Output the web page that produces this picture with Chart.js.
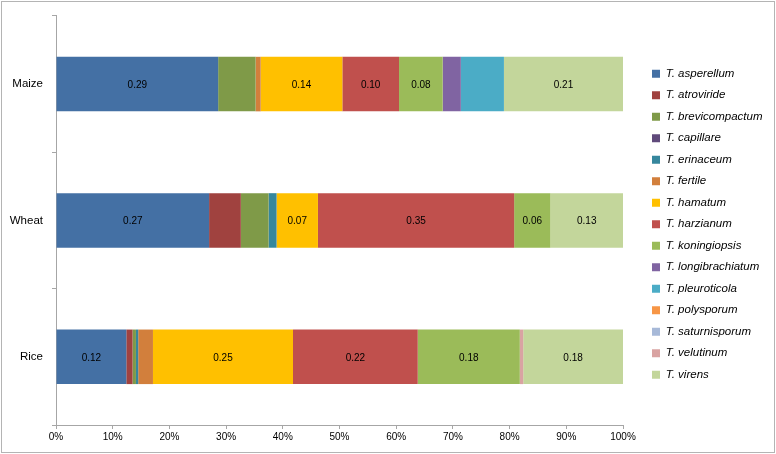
<!DOCTYPE html>
<html>
<head>
<meta charset="utf-8">
<script src="https://cdn.jsdelivr.net/npm/chart.js@4/dist/chart.umd.min.js"></script>
<style>
  html, body { margin: 0; padding: 0; background: #fff; }
  #wrap { width: 776px; height: 454px; }
</style>
</head>
<body>
<div id="wrap"><canvas id="chart" width="776" height="454"></canvas></div>
<script>
// crops (rows of the chart, top to bottom)
const crops = ['Maize', 'Wheat', 'Rice']

// share of each species per crop
const asperellum      = [0.286, 0.270, 0.124]
const atroviride      = [0,     0.056, 0.011]
const brevicompactum  = [0.066, 0.049, 0.006]
const capillare       = [0,     0,     0]
const erinaceum       = [0,     0.014, 0.004]
const fertile         = [0.009, 0,     0.026]
const hamatum         = [0.144, 0.073, 0.247]
const harzianum       = [0.100, 0.346, 0.220]
const koningiopsis    = [0.077, 0.064, 0.180]
const longibrachiatum = [0.032, 0,     0]
const pleuroticola    = [0.076, 0,     0]
const polysporum      = [0,     0,     0]
const saturnisporum   = [0,     0,     0]
const velutinum       = [0,     0,     0.006]
const virens          = [0.210, 0.128, 0.176]

const xTicks = [0, 0.1, 0.2, 0.3, 0.4, 0.5, 0.6, 0.7, 0.8, 0.9, 1]

const series = [
  ['T. asperellum', asperellum, '#4470a4', true],
  ['T. atroviride', atroviride, '#a0423f', false],
  ['T. brevicompactum', brevicompactum, '#7f9a48', false],
  ['T. capillare', capillare, '#604a7b', false],
  ['T. erinaceum', erinaceum, '#36879d', false],
  ['T. fertile', fertile, '#d27f3c', false],
  ['T. hamatum', hamatum, '#ffc000', true],
  ['T. harzianum', harzianum, '#c0504d', true],
  ['T. koningiopsis', koningiopsis, '#9bbb59', true],
  ['T. longibrachiatum', longibrachiatum, '#8064a2', false],
  ['T. pleuroticola', pleuroticola, '#4bacc6', false],
  ['T. polysporum', polysporum, '#f79646', false],
  ['T. saturnisporum', saturnisporum, '#a7b9d8', false],
  ['T. velutinum', velutinum, '#d9a3a2', false],
  ['T. virens', virens, '#c3d69b', true]
]

const FONT = '"Liberation Sans", Arial, sans-serif'
const AXIS = '#a6a6a6'

const datasets = series.map(([label, data, color, showVal]) => ({
  label, data,
  backgroundColor: color,
  borderWidth: 0,
  barPercentage: 0.8,
  categoryPercentage: 0.5,
  showVal
}))

// value labels in the middle of some segments
const valueLabels = {
  id: 'valueLabels',
  afterDatasetsDraw(chart) {
    const ctx = chart.ctx
    ctx.save()
    ctx.font = '10px ' + FONT
    ctx.fillStyle = '#000'
    ctx.textAlign = 'center'
    ctx.textBaseline = 'middle'
    chart.data.datasets.forEach((ds, i) => {
      if (!ds.showVal) return
      chart.getDatasetMeta(i).data.forEach((bar, j) => {
        const v = ds.data[j]
        if (!v) return
        const cx = (bar.x + bar.base) / 2
        ctx.fillText(v.toFixed(2), cx, bar.y + 1)
      })
    })
    ctx.restore()
  }
}

// outer frame and legend placement
const frame = {
  id: 'frame',
  afterInit(chart) {
    const lg = chart.legend
    const fit = lg.fit.bind(lg)
    lg.fit = () => { fit(); lg.width = 153 }
  },
  beforeDraw(chart) {
    const ctx = chart.ctx
    ctx.save()
    ctx.fillStyle = '#fff'
    ctx.fillRect(0, 0, chart.width, chart.height)
    ctx.strokeStyle = '#b4b4b4'
    ctx.lineWidth = 1
    ctx.strokeRect(1.5, 1.5, chart.width - 3, chart.height - 3)
    ctx.restore()
    const lg = chart.legend
    lg.left = 642; lg.right = 776
    lg.top = 58; lg.bottom = 440
  }
}

new Chart(document.getElementById('chart'), {
  type: 'bar',
  data: { labels: crops, datasets },
  plugins: [valueLabels, frame],
  options: {
    indexAxis: 'y',
    responsive: false,
    animation: false,
    devicePixelRatio: 1,
    layout: { padding: { top: 14, left: 0, right: 0, bottom: 0 } },
    scales: {
      x: {
        stacked: true,
        min: 0, max: 1,
        afterBuildTicks: s => { s.ticks = xTicks.map(v => ({ value: v })) },
        afterFit: s => { s.height = 29 },
        ticks: {
          callback: v => Math.round(v * 100) + '%',
          font: { family: FONT, size: 10 },
          color: '#000',
          padding: 2,
          maxRotation: 0
        },
        grid: { drawOnChartArea: false, color: AXIS, tickLength: 4 },
        border: { color: AXIS }
      },
      y: {
        stacked: true,
        afterFit: s => { s.width = 56 },
        ticks: {
          font: { family: FONT, size: 11.5 },
          color: '#000',
          padding: 9
        },
        grid: { offset: true, drawOnChartArea: false, color: AXIS, tickLength: 4 },
        border: { color: AXIS }
      }
    },
    plugins: {
      tooltip: { enabled: false },
      legend: {
        position: 'right',
        align: 'start',
        labels: {
          boxWidth: 8,
          boxHeight: 8,
          padding: 10,
          color: '#000',
          font: { family: FONT, size: 11.5, style: 'italic' }
        }
      }
    }
  }
})
</script>
</body>
</html>
